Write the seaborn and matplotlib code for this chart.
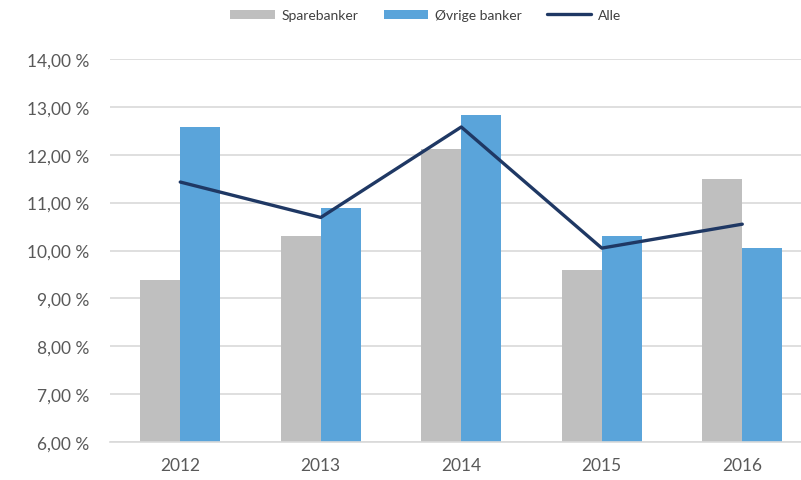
import matplotlib
matplotlib.use("Agg")
import matplotlib.pyplot as plt
import seaborn as sns
import pandas as pd
from matplotlib.patches import Patch
from matplotlib.lines import Line2D
from matplotlib.ticker import FuncFormatter, MultipleLocator

years = ["2012", "2013", "2014", "2015", "2016"]
sparebanker = [9.38, 10.31, 12.12, 9.60, 11.49]
ovrige = [12.57, 10.88, 12.84, 10.31, 10.05]
alle = [11.43, 10.69, 12.58, 10.05, 10.55]
series_names = ["Sparebanker", "Øvrige banker", "Alle"]

c_grey = "#BFBFBF"
c_blue = "#5AA4DA"
c_line = "#1F3864"

sns.set_theme(style="white")
plt.rcParams["font.family"] = ["Lato", "DejaVu Sans"]

df = pd.DataFrame({
    "year": years * 2,
    "value": sparebanker + ovrige,
    "serie": [series_names[0]] * len(years) + [series_names[1]] * len(years),
})

fig = plt.figure(figsize=(8.01, 4.81), dpi=100)
ax = fig.add_axes([110 / 801, 38 / 481, 691 / 801, 383 / 481])

sns.barplot(data=df, x="year", y="value", hue="serie", order=years,
            hue_order=series_names[:2], palette=[c_grey, c_blue],
            width=0.57, saturation=1, linewidth=0, ax=ax, legend=False)
sns.pointplot(x=years, y=alle, order=years, color=c_line, markers="",
              linestyles="-", ax=ax)
for ln in ax.lines:
    ln.set_linewidth(2.4)
    ln.set_zorder(5)

ax.set_ylim(6, 14)
ax.set_xlim(-0.5, 4.418)
ax.yaxis.set_major_locator(MultipleLocator(1))
ax.yaxis.set_major_formatter(FuncFormatter(lambda v, p: f"{v:.2f}".replace(".", ",") + " %"))
ax.set_xlabel("")
ax.set_ylabel("")
ax.grid(axis="y", color="#D9D9D9", linewidth=1.2)
ax.set_axisbelow(True)
for s in ["top", "right", "left"]:
    ax.spines[s].set_visible(False)
ax.spines["bottom"].set_color("#D9D9D9")
ax.spines["bottom"].set_linewidth(1.2)
ax.tick_params(axis="both", length=0, labelsize=12.5, colors="#595959")
ax.tick_params(axis="y", pad=15)
ax.tick_params(axis="x", pad=11)

handles = [Patch(facecolor=c_grey, edgecolor="none"),
           Patch(facecolor=c_blue, edgecolor="none"),
           Line2D([], [], color=c_line, linewidth=2.4)]
fig.legend(handles, series_names, loc="center", bbox_to_anchor=(426 / 801, 1 - 16 / 481),
           ncol=3, frameon=False, fontsize=10, handlelength=3.2, handleheight=0.6,
           handletextpad=0.5, columnspacing=1.8, labelcolor="#404040")

fig.savefig("out.png", dpi=100)
